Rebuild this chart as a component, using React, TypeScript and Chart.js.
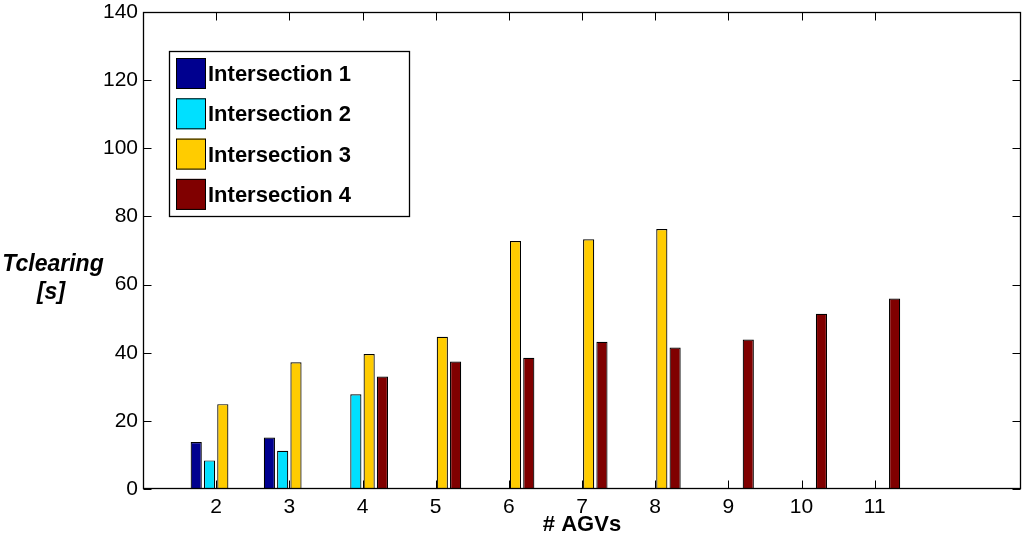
import React, { useEffect, useRef } from "react";
import { Chart, registerables } from "chart.js";

Chart.register(...registerables);

const categories = [2, 3, 4, 5, 6, 7, 8, 9, 10, 11];
const seriesNames = ["Intersection 1", "Intersection 2", "Intersection 3", "Intersection 4"];
const intersection1 = [13.8, 15.1, 0, 0, 0, 0, 0, 0, 0, 0];
const intersection2 = [8.4, 11.2, 27.8, 0, 0, 0, 0, 0, 0, 0];
const intersection3 = [24.9, 37.2, 39.6, 44.7, 72.8, 73.3, 76.3, 0, 0, 0];
const intersection4 = [0, 0, 33.0, 37.4, 38.5, 43.2, 41.5, 43.9, 51.4, 55.9];
const seriesColors = ["#00008F", "#00E0FF", "#FFCC00", "#800000"];
const yTicks = [0, 20, 40, 60, 80, 100, 120, 140];
const xLabel = "# AGVs";
const yLabelLines = ["Tclearing", "[s]"];

const FONT = "'Liberation Sans', Arial, Helvetica, sans-serif";

const framePlugin = {
  id: "matlabFrame",
  afterDraw(chart: any) {
    const { ctx, chartArea } = chart;
    const xs = chart.scales.x;
    const ys = chart.scales.y;
    const L = Math.round(chartArea.left) + 0.5;
    const R = Math.round(chartArea.right) - 0.5;
    const T = Math.round(chartArea.top) + 0.5;
    const B = Math.round(chartArea.bottom) - 0.5;
    ctx.save();
    ctx.strokeStyle = "#000";
    ctx.lineWidth = 1;
    // ticks
    ctx.beginPath();
    categories.forEach((c) => {
      const px = Math.round(xs.getPixelForValue(c)) + 0.5;
      ctx.moveTo(px, B);
      ctx.lineTo(px, B - 8);
      ctx.moveTo(px, T);
      ctx.lineTo(px, T + 8);
    });
    yTicks.forEach((v) => {
      const py = Math.round(ys.getPixelForValue(v)) + 0.5;
      ctx.moveTo(L, py);
      ctx.lineTo(L + 8, py);
      ctx.moveTo(R, py);
      ctx.lineTo(R - 8, py);
    });
    ctx.stroke();
    // frame
    ctx.lineWidth = 1.3;
    ctx.strokeRect(L, T, R - L, B - T);

    // legend
    const lx = 169.5, ly = 51.5, lw = 240, lh = 165;
    ctx.fillStyle = "#fff";
    ctx.fillRect(lx, ly, lw, lh);
    ctx.lineWidth = 1.3;
    ctx.strokeRect(lx, ly, lw, lh);
    ctx.font = `bold 22px ${FONT}`;
    ctx.textBaseline = "middle";
    ctx.textAlign = "left";
    seriesNames.forEach((name, i) => {
      const sy = 58 + i * 40.3;
      ctx.fillStyle = seriesColors[i];
      ctx.fillRect(176, sy, 30, 31);
      ctx.lineWidth = 1;
      ctx.strokeStyle = "#000";
      ctx.strokeRect(176.5, sy + 0.5, 29, 30);
      ctx.fillStyle = "#000";
      ctx.fillText(name, 208, sy + 17);
    });

    // axis titles
    ctx.fillStyle = "#000";
    ctx.textAlign = "center";
    ctx.font = `bold 22px ${FONT}`;
    ctx.fillText(xLabel, (chartArea.left + chartArea.right) / 2, 525);
    ctx.font = `italic bold 23px ${FONT}`;
    ctx.fillText(yLabelLines[0], 53, 265);
    ctx.fillText(yLabelLines[1], 51, 293);
    ctx.restore();
  },
};

export default function App() {
  const ref = useRef<HTMLCanvasElement | null>(null);
  useEffect(() => {
    document.body.style.margin = "0";
    const series = [intersection1, intersection2, intersection3, intersection4];
    const chart = new Chart(ref.current as HTMLCanvasElement, {
      type: "bar",
      data: {
        datasets: series.map((vals, i) => ({
          label: seriesNames[i],
          data: categories.map((c, j) => ({ x: c, y: vals[j] })),
          backgroundColor: seriesColors[i],
          borderColor: "#000",
          borderWidth: 1.2,
          categoryPercentage: 0.727,
          barPercentage: 0.84,
        })),
      },
      options: {
        animation: false,
        responsive: false,
        maintainAspectRatio: false,
        layout: { padding: { left: 0, right: 2, top: 12, bottom: 0 } },
        plugins: { legend: { display: false }, tooltip: { enabled: false } },
        scales: {
          x: {
            type: "linear",
            min: 1,
            max: 13,
            offset: false,
            grid: { display: false, drawTicks: false },
            border: { display: false },
            afterBuildTicks: (s: any) => {
              s.ticks = categories.map((v) => ({ value: v }));
            },
            afterFit: (s: any) => {
              s.height = 46;
              s.paddingLeft = 0;
              s.paddingRight = 0;
            },
            ticks: {
              color: "#000",
              font: { family: FONT, size: 21 },
              padding: 6,
              maxRotation: 0,
              autoSkip: false,
            },
          },
          y: {
            type: "linear",
            min: 0,
            max: 140,
            grid: { display: false, drawTicks: false },
            border: { display: false },
            afterBuildTicks: (s: any) => {
              s.ticks = yTicks.map((v) => ({ value: v }));
            },
            afterFit: (s: any) => {
              s.width = 143;
              s.paddingTop = 0;
              s.paddingBottom = 0;
            },
            ticks: {
              color: "#000",
              font: { family: FONT, size: 21 },
              padding: 5,
            },
          },
        },
      },
      plugins: [framePlugin],
    });
    return () => chart.destroy();
  }, []);
  return (
    <div style={{ position: "absolute", left: 0, top: 0, width: 1023, height: 535, background: "#fff" }}>
      <canvas ref={ref} width={1023} height={535} style={{ width: 1023, height: 535 }} />
    </div>
  );
}
